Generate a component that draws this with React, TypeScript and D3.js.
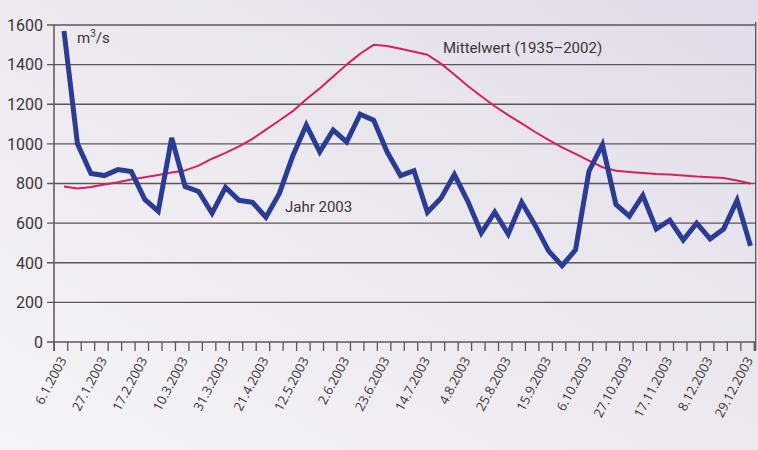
import React from "react";
import * as d3 from "d3";

const dateLabels = [
  "6.1.2003", "27.1.2003", "17.2.2003", "10.3.2003", "31.3.2003", "21.4.2003",
  "12.5.2003", "2.6.2003", "23.6.2003", "14.7.2003", "4.8.2003", "25.8.2003",
  "15.9.2003", "6.10.2003", "27.10.2003", "17.11.2003", "8.12.2003", "29.12.2003",
];

// weekly discharge 2003 (m3/s), 52 weeks starting 6.1.2003
const jahr2003 = [
  1570, 1000, 850, 840, 870, 860, 720, 660, 1030, 785,
  760, 650, 780, 715, 705, 630, 750, 940, 1095, 960,
  1070, 1010, 1150, 1120, 960, 840, 865, 655, 725, 845,
  710, 550, 655, 545, 705, 590, 460, 385, 465, 862,
  995, 695, 635, 740, 570, 615, 515, 600, 520, 570,
  715, 485,
];

// long-term mean 1935–2002 (m3/s), same weeks
const mittelwert = [
  785, 775, 782, 795, 806, 820, 832, 843, 855, 866,
  890, 925, 955, 987, 1025, 1072, 1118, 1165, 1225, 1280,
  1340, 1400, 1455, 1500, 1494, 1480, 1465, 1450, 1405, 1350,
  1292, 1240, 1190, 1145, 1103, 1060, 1020, 982, 950, 915,
  882, 864, 858, 853, 848, 845, 840, 835, 832, 828,
  815, 800,
];

const yTicks = [0, 200, 400, 600, 800, 1000, 1200, 1400, 1600];

const W = 758;
const H = 450;
const LEFT = 54;
const RIGHT = 755.7;
const TOP = 25;
const BOTTOM = 342;

export default function App() {
  const x = d3.scaleLinear().domain([0, jahr2003.length - 1]).range([64, 750.5]);
  const y = d3.scaleLinear().domain([0, 1600]).range([BOTTOM, TOP]);
  const line = d3
    .line<number>()
    .x((_, i) => x(i))
    .y((d) => y(d));
  const tickIdx = d3.range(0, jahr2003.length + 1).map((j) => j - 0.72);
  const gridColor = "#5e5558";
  const textColor = "#3b3537";

  return (
    <svg
      width={W}
      height={H}
      style={{ position: "absolute", left: 0, top: 0, display: "block" }}
    >
      <defs>
        <linearGradient id="bg" x1="0" y1="1" x2="1" y2="0">
          <stop offset="0" stopColor="#f5f4f6" />
          <stop offset="0.5" stopColor="#eceaef" />
          <stop offset="1" stopColor="#e0dcea" />
        </linearGradient>
      </defs>
      <rect x={0} y={0} width={W} height={H} fill="url(#bg)" />

      {/* gridlines */}
      {yTicks.map((t) => (
        <line
          key={t}
          x1={47}
          x2={RIGHT}
          y1={y(t)}
          y2={y(t)}
          stroke={gridColor}
          strokeWidth={t === 0 ? 1.6 : 1.3}
        />
      ))}
      {/* y axis and right border */}
      <line x1={LEFT} x2={LEFT} y1={TOP} y2={351} stroke={gridColor} strokeWidth={1.5} />
      <line x1={RIGHT} x2={RIGHT} y1={22} y2={351} stroke={gridColor} strokeWidth={1.3} />
      {/* x ticks */}
      {tickIdx.map((j, i) => (
        <line
          key={i}
          x1={x(j)}
          x2={x(j)}
          y1={BOTTOM}
          y2={351}
          stroke={gridColor}
          strokeWidth={1.3}
        />
      ))}

      {/* y labels */}
      {yTicks.map((t) => (
        <text
          key={t}
          x={43}
          y={y(t)}
          dy="0.36em"
          textAnchor="end"
          fontFamily="Roboto, sans-serif"
          fontSize={16}
          fill={textColor}
        >
          {t}
        </text>
      ))}

      {/* x labels */}
      {dateLabels.map((lab, i) => {
        const px = x(i * 3) + 3;
        const py = 360;
        return (
          <text
            key={lab}
            transform={`translate(${px},${py}) rotate(-62)`}
            textAnchor="end"
            fontFamily="'Open Sans', sans-serif"
            fontSize={13}
            fill={textColor}
          >
            {lab}
          </text>
        );
      })}

      {/* series */}
      <path d={line(mittelwert) || ""} fill="none" stroke="#d8205a" strokeWidth={2} strokeLinejoin="round" />
      <path d={line(jahr2003) || ""} fill="none" stroke="#2b3c94" strokeWidth={5} strokeLinejoin="miter" />

      {/* annotations */}
      <text x={77} y={43} fontFamily="Roboto, sans-serif" fontSize={15} fill={textColor}>
        m<tspan dy={-6} fontSize={10}>3</tspan>
        <tspan dy={6}>/s</tspan>
      </text>
      <text x={443} y={53} fontFamily="Roboto, sans-serif" fontSize={15} fill={textColor}>
        Mittelwert (1935–2002)
      </text>
      <text x={285} y={212} fontFamily="Roboto, sans-serif" fontSize={15} fill={textColor}>
        Jahr 2003
      </text>
    </svg>
  );
}
